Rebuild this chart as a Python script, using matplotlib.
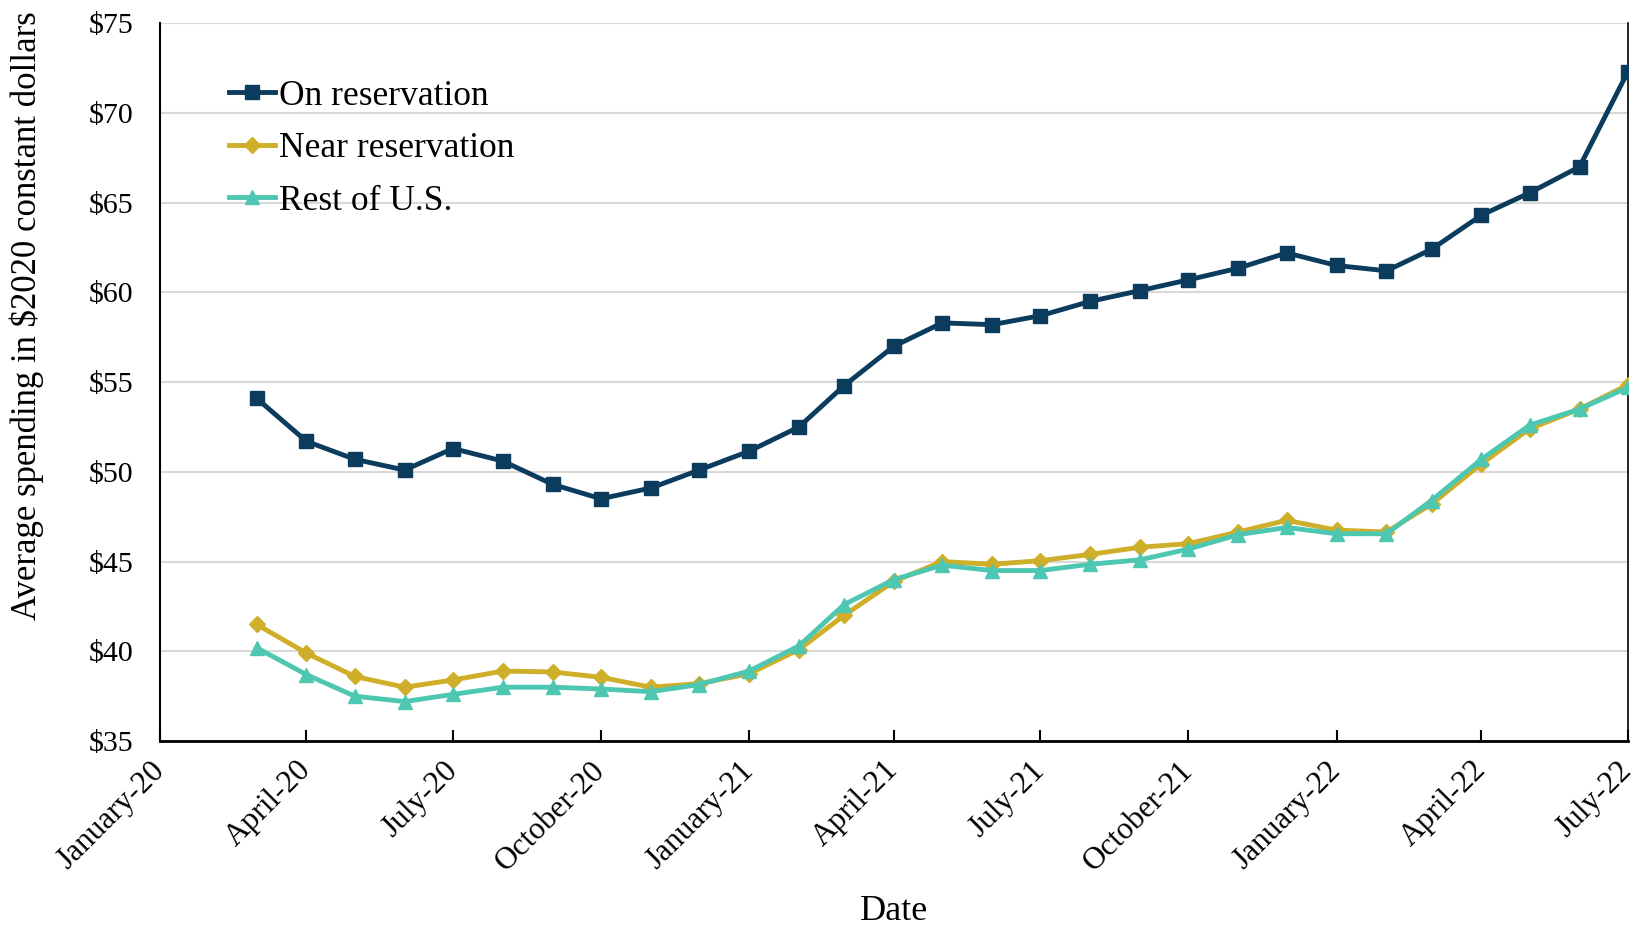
import numpy as np
import pandas as pd
import matplotlib
matplotlib.use("Agg")
import matplotlib.pyplot as plt
import matplotlib.dates as mdates
from matplotlib.ticker import FuncFormatter, MultipleLocator

plt.rcParams['font.family'] = ['Liberation Serif', 'DejaVu Serif']

# monthly averages, March 2020 .. July 2022
months = pd.date_range("2020-03-01", "2022-07-01", freq="MS")

on_res = [54.1, 51.7, 50.7, 50.1, 51.3, 50.6, 49.3, 48.5, 49.1, 50.1,
          51.15, 52.5, 54.8, 57.0, 58.3, 58.2, 58.7, 59.5, 60.1, 60.7,
          61.35, 62.2, 61.5, 61.2, 62.4, 64.3, 65.55, 67.0, 72.3]
near_res = [41.5, 39.9, 38.6, 38.0, 38.4, 38.9, 38.85, 38.55, 38.0, 38.2,
            38.75, 40.1, 42.0, 43.9, 45.0, 44.85, 45.05, 45.4, 45.8, 46.0,
            46.65, 47.3, 46.75, 46.65, 48.2, 50.45, 52.4, 53.5, 54.85]
rest_us = [40.2, 38.7, 37.5, 37.2, 37.6, 38.0, 38.0, 37.9, 37.75, 38.15,
           38.9, 40.3, 42.6, 44.0, 44.8, 44.5, 44.5, 44.85, 45.1, 45.7,
           46.5, 46.9, 46.55, 46.55, 48.4, 50.7, 52.6, 53.5, 54.7]

NAVY = "#0B3C5D"
GOLD = "#CFAE2A"
TEAL = "#4EC7B2"

fig = plt.figure(figsize=(16.41, 9.27), dpi=100)
ax = fig.add_axes([0.0975, 0.2006, 0.8945, 0.7744])

ax.plot(months, on_res, color=NAVY, lw=3.5, marker="s", ms=10, label="On reservation", zorder=5)
ax.plot(months, near_res, color=GOLD, lw=3.5, marker="D", ms=8, label="Near reservation", zorder=3)
ax.plot(months, rest_us, color=TEAL, lw=3.5, marker="^", ms=10, label="Rest of U.S.", zorder=4)

ax.set_ylim(35, 75)
ax.yaxis.set_major_locator(MultipleLocator(5))
ax.yaxis.set_major_formatter(FuncFormatter(lambda v, p: f"${v:.0f}"))
ax.grid(axis="y", color="#d9d9d9", lw=1.5)
ax.set_axisbelow(True)

ax.set_xlim(pd.Timestamp("2020-01-01"), pd.Timestamp("2022-07-01"))
ax.xaxis.set_major_locator(mdates.MonthLocator(bymonth=[1, 4, 7, 10]))
ax.xaxis.set_major_formatter(mdates.DateFormatter("%B-%y"))
plt.setp(ax.get_xticklabels(), rotation=45, ha="right", va="center", rotation_mode="anchor")

ax.tick_params(axis="x", direction="in", length=8, width=1.5, labelsize=22.5, pad=18)
ax.tick_params(axis="y", length=0, labelsize=21.5, pad=19)

ax.spines["top"].set_visible(False)
ax.spines["left"].set_linewidth(1.5)
ax.spines["bottom"].set_linewidth(2)
ax.spines["right"].set_linewidth(1.2)

ax.set_xlabel("Date", fontsize=26, va="center")
ax.xaxis.set_label_coords(0.5, -0.238)
ax.set_ylabel("Average spending in $2020 constant dollars", fontsize=25, va="center")
ax.yaxis.set_label_coords(-0.091, 0.592)

ax.legend(loc="center left", bbox_to_anchor=(0.047, 0.825), frameon=False, fontsize=25.5,
          handlelength=1.3, handletextpad=0.1, labelspacing=0.55, borderaxespad=0, borderpad=0)

fig.savefig("out.png", dpi=100)
